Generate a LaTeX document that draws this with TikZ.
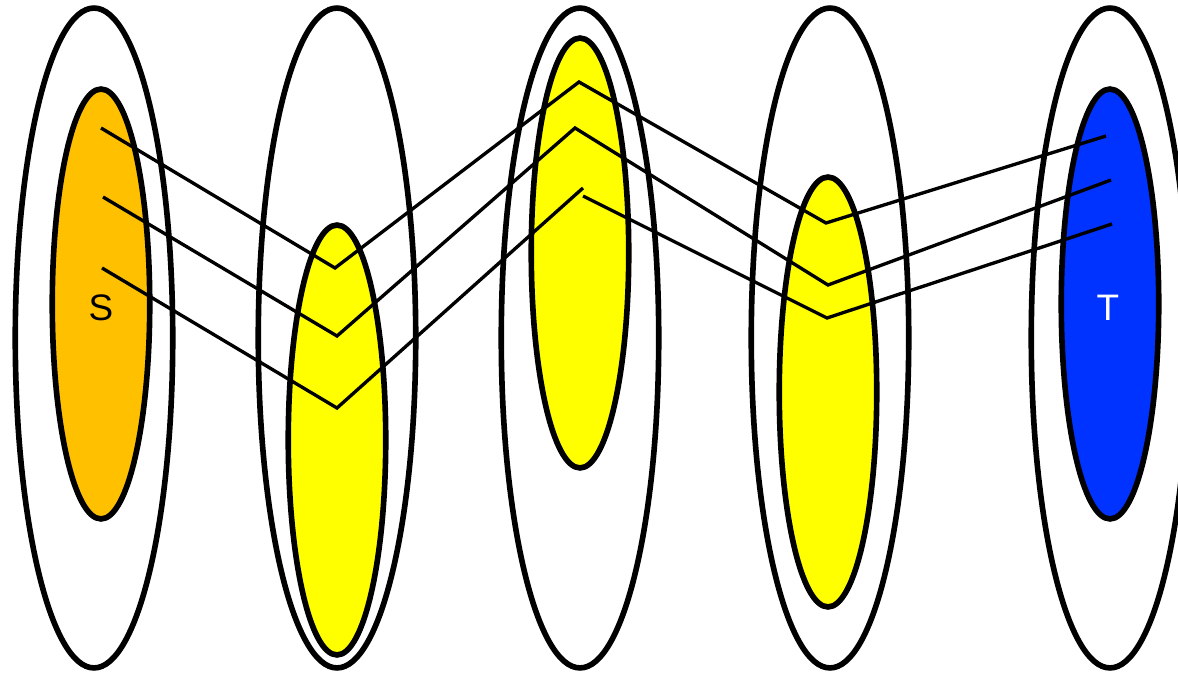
\documentclass[tikz,border=0pt]{standalone}
\usepackage{fontspec}
\setmainfont{Liberation Sans}
\usepackage{tikz}
\usetikzlibrary{shapes.geometric}
\definecolor{sorange}{HTML}{FFC000}
\definecolor{lyellow}{HTML}{FFFF00}
\definecolor{tblue}{HTML}{0033FF}
\tikzset{
  outerset/.style={ellipse, draw=black, fill=white, line width=3.2pt,
                   inner sep=0, minimum width=3.15cm, minimum height=13.2cm},
  innerset/.style={ellipse, draw=black, line width=3.2pt,
                   inner sep=0, minimum width=1.95cm, minimum height=8.6cm},
  pathseg/.style={draw=black, line width=1.9pt},
  setlabel/.style={font=\fontsize{21}{25}\selectfont},
}

\begin{document}
\begin{tikzpicture}[x=0.02cm, y=-0.02cm]

  \useasboundingbox (0,0) rectangle (1178,675);
  \clip (0,0) rectangle (1178,675);

  % outer sets
  \node[outerset] (o1) at (94,338) {};
  \node[outerset] (o2) at (337,338) {};
  \node[outerset] (o3) at (580,338) {};
  \node[outerset] (o4) at (830,338) {};
  \node[outerset] (o5) at (1110,338) {};

  % inner sets
  \node[innerset, fill=sorange] (s) at (101,304) {};
  \node[innerset, fill=lyellow] (l2) at (337,440) {};
  \node[innerset, fill=lyellow] (l3) at (580,253) {};
  \node[innerset, fill=lyellow] (l4) at (828,392) {};
  \node[innerset, fill=tblue] (t) at (1110,304) {};

  \node[setlabel, text=black] (slab) at (101,308) {S};
  \node[setlabel, text=white] (tlab) at (1108,308) {T};

  % path points
  \coordinate (a1) at (101,128);
  \coordinate (a2) at (335,268);
  \coordinate (a3) at (579,82);
  \coordinate (a4) at (826,223);
  \coordinate (a5) at (1106,136);

  \coordinate (b1) at (103,197);
  \coordinate (b2) at (337,336);
  \coordinate (b3) at (575,128);
  \coordinate (b4) at (828,285);
  \coordinate (b5) at (1111,180);

  \coordinate (c1) at (102,268);
  \coordinate (c2) at (337,408);
  \coordinate (c3) at (583,188);
  \coordinate (c3b) at (583,196);
  \coordinate (c4) at (827,318);
  \coordinate (c5) at (1112,224);

  \draw[pathseg] (a1) -- (a2) -- (a3) -- (a4) -- (a5);
  \draw[pathseg] (b1) -- (b2) -- (b3) -- (b4) -- (b5);
  \draw[pathseg] (c1) -- (c2) -- (c3);
  \draw[pathseg] (c3b) -- (c4) -- (c5);

\end{tikzpicture}
\end{document}
